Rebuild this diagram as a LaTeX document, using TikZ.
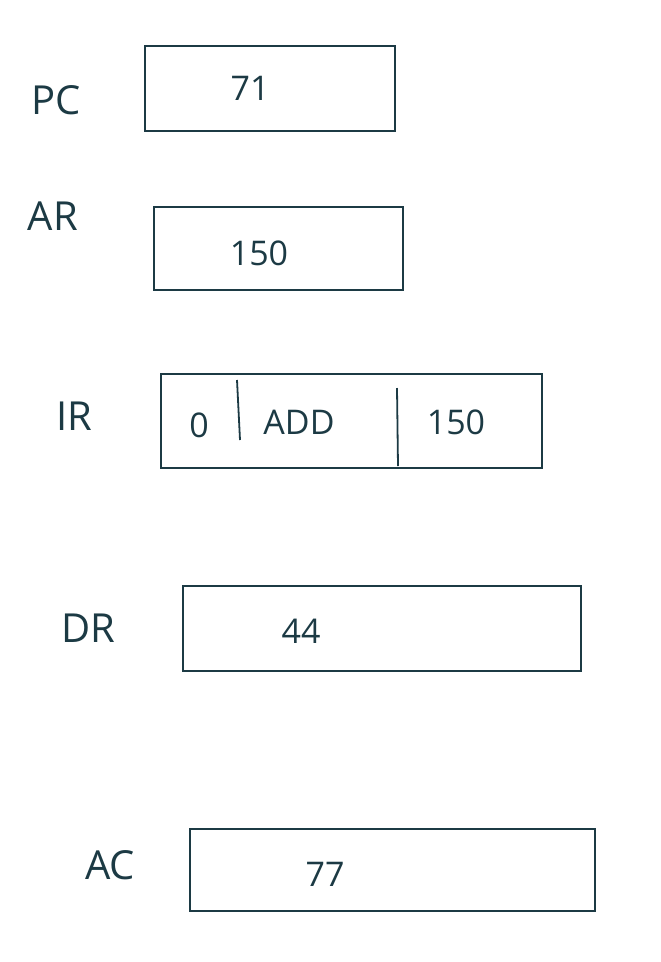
\documentclass[tikz,border=0pt]{standalone}
\usepackage{fontspec}
\setmainfont{Open Sans}
\usetikzlibrary{positioning}

\definecolor{ink}{HTML}{1C3A44}

\tikzset{
  reg/.style={draw=ink, line width=1.8pt, inner sep=0pt},
  lbl/.style={text=ink, font=\fontsize{40}{40}\selectfont},
  val/.style={text=ink, font=\fontsize{34}{34}\selectfont}
}

\begin{document}
\begin{tikzpicture}[x=1pt,y=-1pt]
            \useasboundingbox (0,0) rectangle (661,962);

            % Registers
            \node[reg, minimum width=250pt, minimum height=85pt] (pc) at (270,88.5)  {};
            \node[reg, minimum width=249pt, minimum height=83pt] (ar) at (278.5,248.5) {};
            \node[reg, minimum width=381pt, minimum height=94pt] (ir) at (351.5,421) {};
            \node[reg, minimum width=398pt, minimum height=85pt] (dr) at (382,628.5) {};
            \node[reg, minimum width=405pt, minimum height=82pt] (ac) at (392.5,870) {};

            % Names
            \node[lbl] (pclbl) at (56,100)  {PC};
            \node[lbl] (arlbl) at (53,216)  {AR};
            \node[lbl] (irlbl) at (74,416)  {IR};
            \node[lbl] (drlbl) at (88,628)  {DR};
            \node[lbl] (aclbl) at (110,865) {AC};

            % Contents
            \node[val] (pcval) at (250,88)  {71};
            \node[val] (arval) at (259,253) {150};
            \node[val] (drval) at (301,631) {44};
            \node[val] (acval) at (325,874) {77};

            \node[val] (iri) at (199,425) {0};
            \node[val] (irop) at (299,422) {ADD};
            \node[val] (iradr) at (456,422) {150};

            % Fields of IR
            \coordinate (d1a) at (237,380);
            \coordinate (d1b) at (240,440);
            \coordinate (d2a) at (397,388);
            \coordinate (d2b) at (398,466);
            \draw[ink, line width=1.8pt] (d1a) -- (d1b);
            \draw[ink, line width=1.8pt] (d2a) -- (d2b);
        \end{tikzpicture}
\end{document}
